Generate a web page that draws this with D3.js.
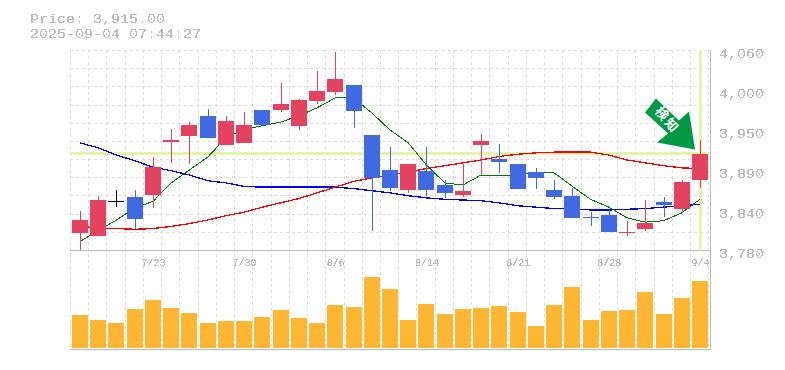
<!DOCTYPE html>
<html>
<head>
<meta charset="utf-8">
<script src="https://cdn.jsdelivr.net/npm/d3@7"></script>
<style>
    body { margin: 0; background: #fff; }
    svg { display: block; }
    .mono { font-family: "Liberation Mono", monospace; fill: #bbb; }
</style>
</head>
<body>
<div id="chart"></div>
<script>
// daily prices
const dates = ["7/16","7/17","7/18","7/22","7/23","7/24","7/25","7/28","7/29","7/30","7/31","8/1","8/4","8/5","8/6","8/7","8/8","8/12","8/13","8/14","8/15","8/18","8/19","8/20","8/21","8/22","8/25","8/26","8/27","8/28","8/29","9/1","9/2","9/3","9/4"];
const opens = [3804,3800,3849,3854,3857,3931,3940,3968,3928,3930,3976,3976,3954,3989,4001,4011,3941,3892,3864,3891,3871,3858,3928,3907,3900,3889,3864,3856,3826,3829,3804,3809,3847,3837,3878];
const closes = [3822,3850,3849,3823,3896,3934,3955,3937,3961,3955,3955,3984,3990,4003,4019,3975,3881,3867,3900,3864,3860,3863,3933,3903,3865,3881,3854,3825,3825,3805,3805,3818,3843,3875,3915];
const highs = [3835,3856,3864,3864,3910,3949,3959,3977,3968,3973,3976,4014,3991,4031,4057,4011,3941,3924,3900,3924,3878,3900,3942,3928,3900,3895,3878,3867,3833,3836,3821,3850,3854,3878,3934];
const lows = [3780,3800,3840,3809,3839,3902,3900,3937,3928,3930,3954,3973,3948,3984,3997,3951,3807,3863,3860,3856,3853,3854,3885,3888,3865,3865,3851,3825,3814,3805,3800,3807,3826,3832,3867];
const volumes = [33,28,25,39,48,40,35,25,27,27,31,38,30,25,43,41,71,59,28,44,34,39,40,42,36,22,43,61,28,37,38,56,34,50,67];

// moving averages
const maShort = [3792,3807,3822,3839,3848,3874,3892,3910,3937,3949,3954,3959,3968,3979,3993,3993,3972,3948,3930,3899,3874,3871,3885,3885,3885,3888,3888,3869,3851,3840,3825,3819,3821,3832,3851];
const maMid = [3814,3810,3810,3809,3810,3813,3817,3822,3828,3833,3840,3846,3852,3860,3868,3876,3881,3885,3889,3894,3898,3902,3906,3911,3914,3916,3917,3917,3917,3913,3906,3902,3898,3895,3894];
const maLong = [3930,3923,3913,3905,3896,3891,3885,3877,3874,3869,3868,3868,3868,3868,3868,3866,3863,3860,3856,3853,3851,3850,3849,3846,3842,3840,3838,3838,3836,3836,3837,3838,3840,3842,3844];

const priceTicks = [3780,3836,3892,3948,4004,4060];
const dateTicks = ["7/23","7/30","8/6","8/14","8/21","8/28","9/4"];
const lastPrice = 3915;
const priceLabel = "Price: 3,915.00";
const timeLabel = "2025-09-04 07:44:27";
const signalLabel = "検知";

const width = 785, height = 370;
const plot = {left: 70, right: 710, top: 50, priceBottom: 250, volBottom: 348, axisBottom: 350};
const bodyW = 16;
const charW = 9;

const svg = d3.select("#chart").append("svg")
    .attr("width", width)
    .attr("height", height);

// hard edged text like the bitmap font of the original
const filter = svg.append("defs").append("filter")
    .attr("id", "hard")
    .attr("color-interpolation-filters", "sRGB");
filter.append("feComponentTransfer")
    .append("feFuncA")
    .attr("type", "discrete")
    .attr("tableValues", "0 0 1 1 1");

const x = d3.scalePoint().domain(dates).range([80, 700]);
const y = d3.scaleLinear().domain([3780, 4060]).range([plot.priceBottom, plot.top]);
const yVol = d3.scaleLinear().domain([0, 80]).range([plot.volBottom, plot.volBottom - 80]);
const step = x.step();

// grid
const gridXs = d3.range(dates.length + 1).map(i => Math.round(plot.left + step * i) + 0.5);
const gridYs = d3.range(11).map(i => 3780 + (i + 1) * 280 / 11);

svg.append("g").selectAll("line")
    .data(gridXs)
    .join("line")
    .attr("x1", d => d).attr("x2", d => d)
    .attr("y1", plot.top).attr("y2", plot.axisBottom)
    .attr("stroke", "#ddd")
    .attr("stroke-dasharray", "3,3")
    .attr("shape-rendering", "crispEdges");

svg.append("g").selectAll("line")
    .data(gridYs)
    .join("line")
    .attr("x1", plot.left).attr("x2", plot.right)
    .attr("y1", d => Math.round(y(d)) + 0.5).attr("y2", d => Math.round(y(d)) + 0.5)
    .attr("stroke", "#ddd")
    .attr("stroke-dasharray", "3,3")
    .attr("shape-rendering", "crispEdges");

// highlight of the last price and last day
const hl = svg.append("g")
    .attr("stroke", "#e3f5a8")
    .attr("stroke-width", 3)
    .attr("shape-rendering", "crispEdges");
hl.append("line")
    .attr("x1", plot.left).attr("x2", plot.right)
    .attr("y1", y(lastPrice)).attr("y2", y(lastPrice));
hl.append("line")
    .attr("x1", x(dates[34])).attr("x2", x(dates[34]))
    .attr("y1", plot.top).attr("y2", plot.priceBottom - 1);

// moving average lines
const line = d3.line().x((d, i) => x(dates[i])).y(d => y(d));
[[maLong, "#00f", 1.3], [maMid, "#f00", 1.3], [maShort, "#007a00", 1]].forEach(s => {
    svg.append("path")
        .attr("d", line(s[0]))
        .attr("fill", "none")
        .attr("stroke", s[1])
        .attr("stroke-width", s[2])
        .attr("shape-rendering", "crispEdges");
});

// candles
const candleColor = i => closes[i] > opens[i] ? "#e34360" : closes[i] < opens[i] ? "#4169e1" : "#000";

const candles = svg.append("g").attr("shape-rendering", "crispEdges")
    .selectAll("g")
    .data(dates)
    .join("g");

candles.append("line")
    .attr("x1", d => Math.round(x(d)) + 0.5).attr("x2", d => Math.round(x(d)) + 0.5)
    .attr("y1", (d, i) => y(highs[i]))
    .attr("y2", (d, i) => y(lows[i]))
    .attr("stroke", (d, i) => candleColor(i));

candles.append("rect")
    .attr("x", d => Math.round(x(d)) - bodyW / 2)
    .attr("y", (d, i) => Math.round(y(Math.max(opens[i], closes[i]))))
    .attr("width", bodyW)
    .attr("height", (d, i) => Math.max(1, Math.round(Math.abs(y(opens[i]) - y(closes[i])))))
    .attr("fill", (d, i) => candleColor(i));

// volume
svg.append("g").attr("shape-rendering", "crispEdges")
    .selectAll("rect")
    .data(dates)
    .join("rect")
    .attr("x", d => Math.round(x(d)) - bodyW / 2)
    .attr("y", (d, i) => yVol(volumes[i]))
    .attr("width", bodyW)
    .attr("height", (d, i) => plot.volBottom - yVol(volumes[i]))
    .attr("fill", "#ffb733");

// panel border lines
const border = svg.append("g")
    .attr("stroke", "#bbb")
    .attr("shape-rendering", "crispEdges");
border.append("line").attr("x1", plot.left).attr("x2", plot.right + 1).attr("y1", plot.priceBottom + 0.5).attr("y2", plot.priceBottom + 0.5);
border.append("line").attr("x1", plot.left).attr("x2", plot.right + 1).attr("y1", plot.axisBottom - 0.5).attr("y2", plot.axisBottom - 0.5);
border.append("line").attr("x1", plot.right + 0.5).attr("x2", plot.right + 0.5).attr("y1", plot.top).attr("y2", plot.axisBottom);

// axes
const yAxis = svg.append("g")
    .attr("transform", `translate(${plot.right + 9},0)`)
    .call(d3.axisRight(y)
        .tickValues(priceTicks)
        .tickSize(0)
        .tickPadding(0)
        .tickFormat(d => d3.format(",")(Math.round(d / 10) * 10)));
yAxis.select(".domain").remove();
yAxis.selectAll("text")
    .attr("class", "mono")
    .attr("dy", "7px")
    .attr("font-size", 13)
    .attr("textLength", 5 * charW)
    .attr("lengthAdjust", "spacingAndGlyphs")
    .attr("filter", "url(#hard)");

const xAxis = svg.append("g")
    .attr("transform", `translate(0,${plot.priceBottom})`)
    .call(d3.axisBottom(x)
        .tickValues(dateTicks)
        .tickSize(0)
        .tickPadding(0)
        .tickFormat(d => d));
xAxis.select(".domain").remove();
xAxis.selectAll("text")
    .attr("class", "mono")
    .attr("y", 16)
    .attr("dy", 0)
    .attr("font-size", 10)
    .attr("filter", "url(#hard)");

// header text
[[priceLabel, 23], [timeLabel, 38]].forEach(h => {
    svg.append("text")
        .attr("class", "mono")
        .attr("x", 30).attr("y", h[1])
        .attr("font-size", 13)
        .attr("textLength", h[0].length * charW)
        .attr("lengthAdjust", "spacingAndGlyphs")
        .attr("filter", "url(#hard)")
        .text(h[0]);
});

// signal arrow, placed relative to the last candle
const tipX = x(dates[34]) - 5, tipY = y(lastPrice) - 4;
const arrowShape = [[0,0],[-6,-38],[-16,-29],[-39,-51],[-50,-37],[-27,-16],[-38,-7]];
const arrow = svg.append("g").attr("transform", `translate(${tipX},${tipY})`);
arrow.append("polygon")
    .attr("points", arrowShape.map(p => p.join(",")).join(" "))
    .attr("fill", "#009944");
arrow.append("text")
    .attr("transform", "translate(-27,-30) rotate(50)")
    .attr("text-anchor", "middle")
    .attr("dominant-baseline", "central")
    .attr("font-family", "'Noto Sans CJK JP'")
    .attr("font-weight", "bold")
    .attr("font-size", 13)
    .attr("letter-spacing", 2)
    .attr("fill", "#fff")
    .text(signalLabel);
</script>
</body>
</html>
